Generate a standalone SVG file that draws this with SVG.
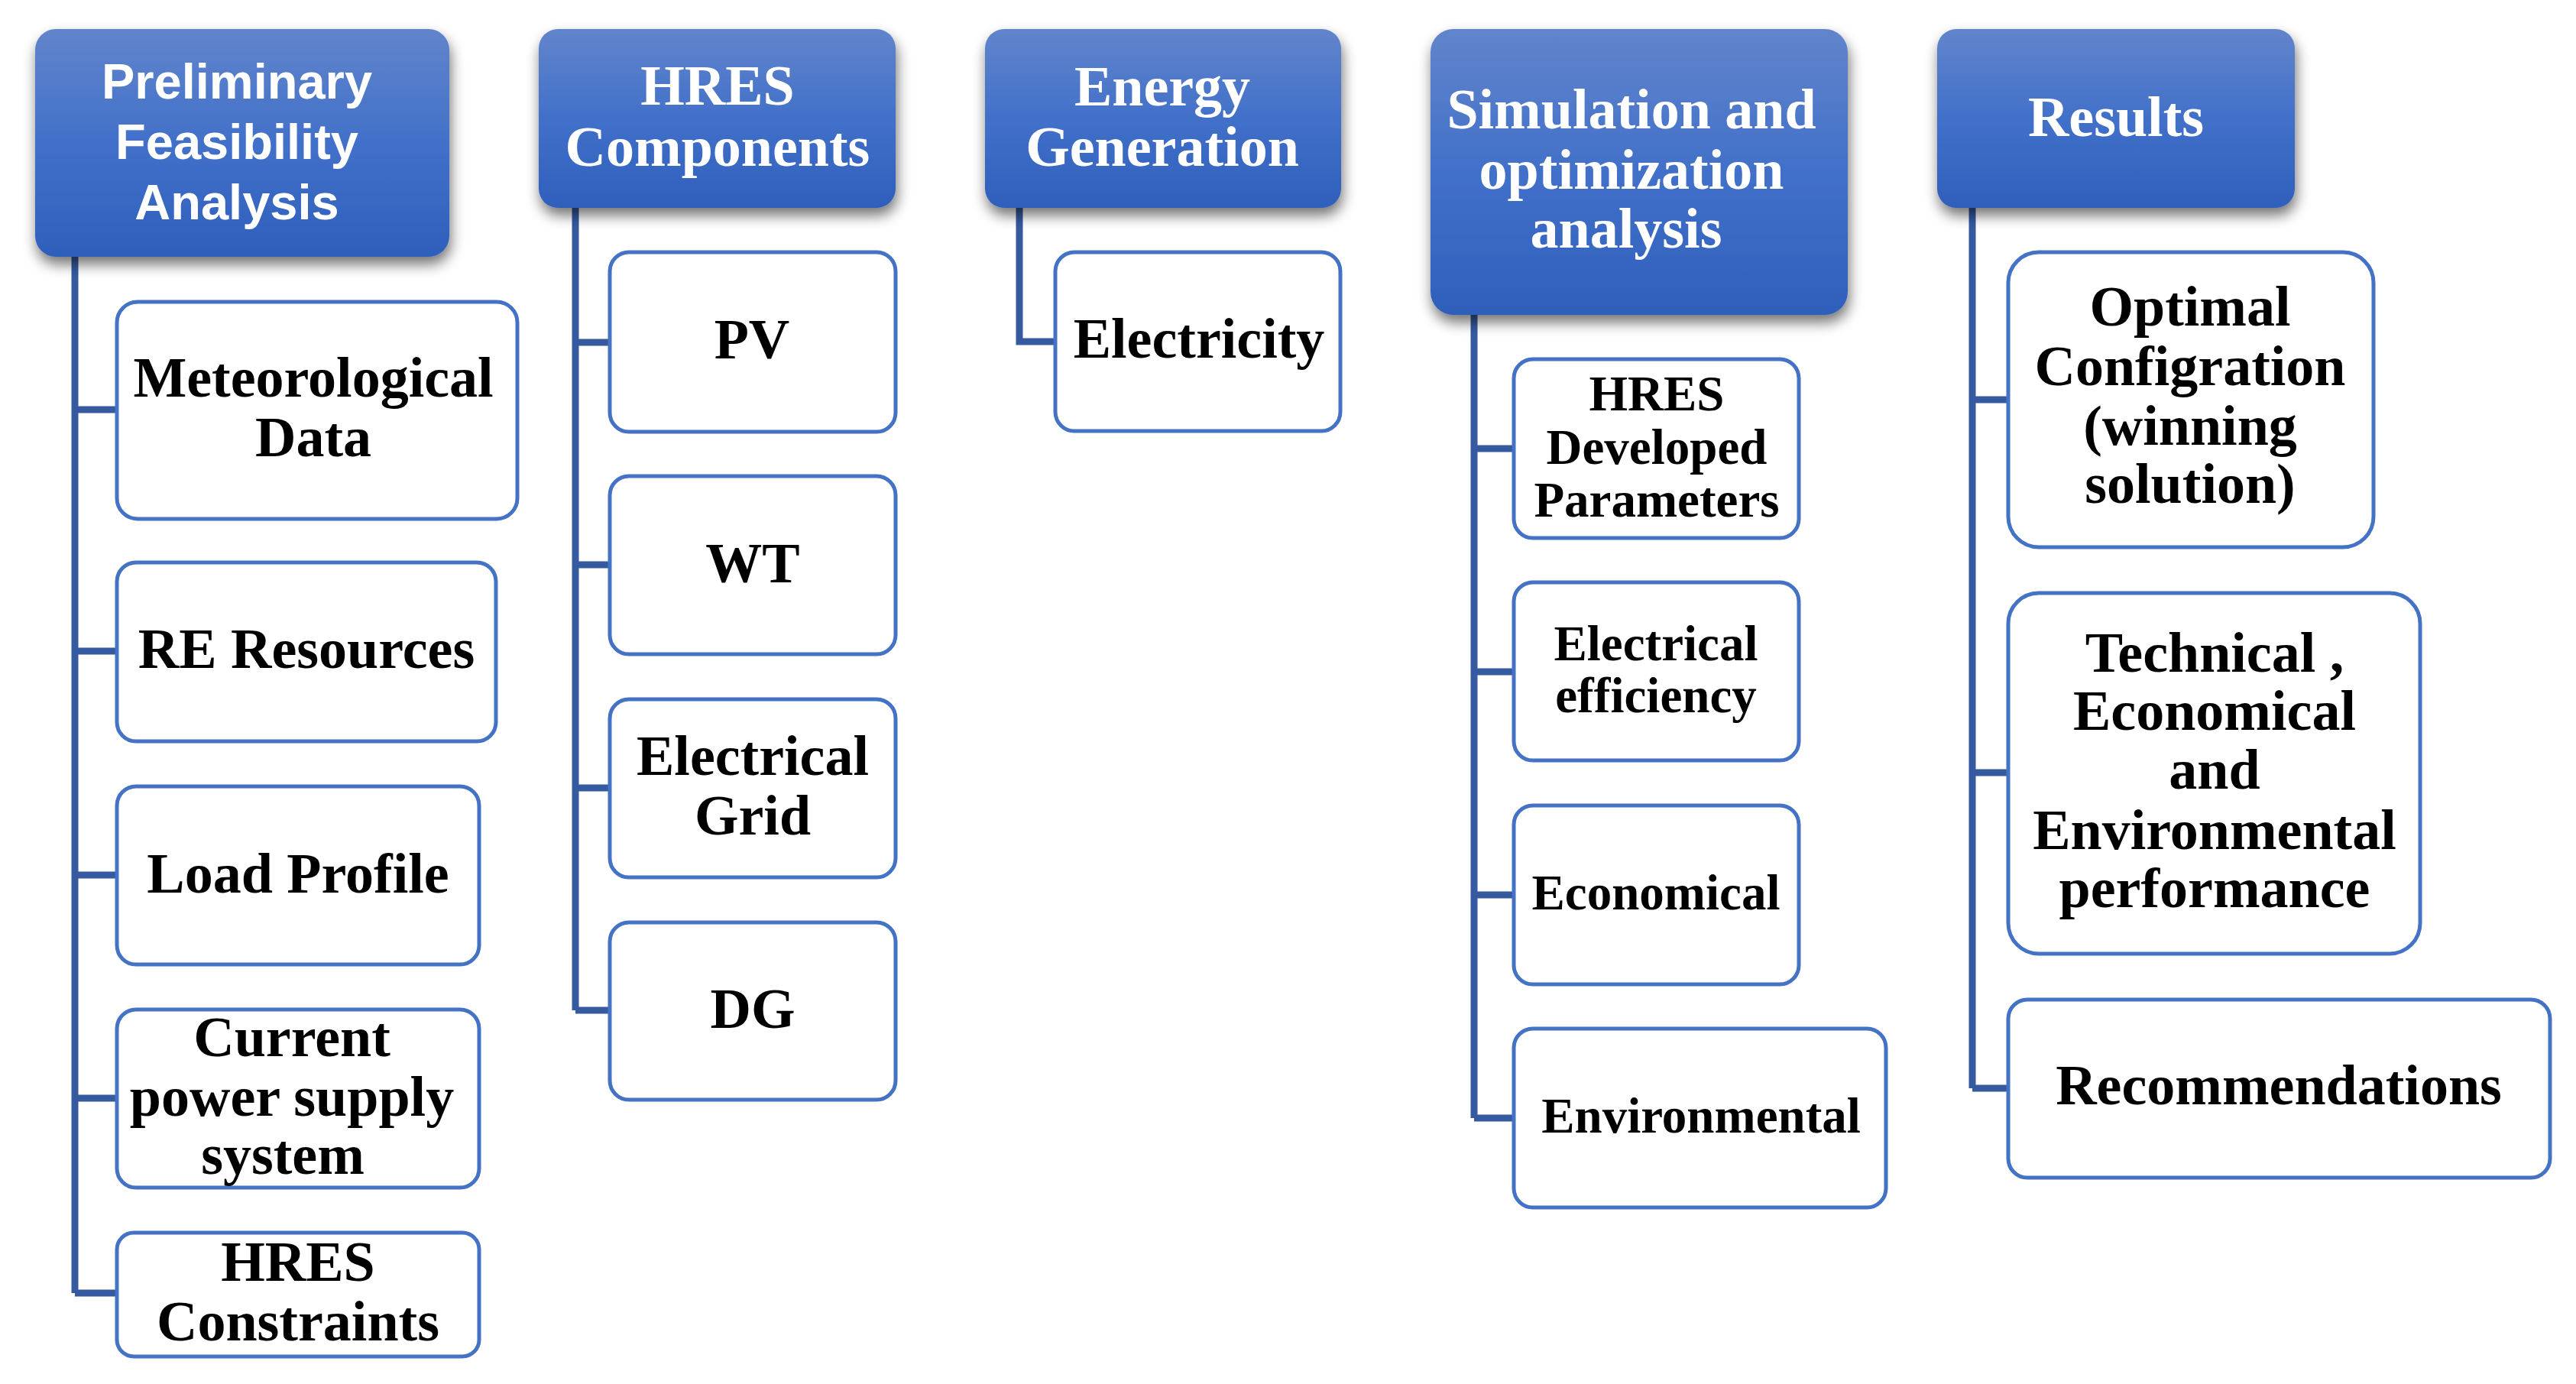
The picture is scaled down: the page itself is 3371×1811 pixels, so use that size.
<svg xmlns="http://www.w3.org/2000/svg" width="3371" height="1811" viewBox="0 0 3371 1811">
<defs>
<linearGradient id="hg" x1="0" y1="0" x2="0" y2="1">
<stop offset="0" stop-color="#6185cb"/>
<stop offset="0.5" stop-color="#4270c9"/>
<stop offset="1" stop-color="#2e5fbb"/>
</linearGradient>
<filter id="sh" x="-10%" y="-10%" width="125%" height="135%">
<feGaussianBlur in="SourceAlpha" stdDeviation="9"/>
<feOffset dx="2" dy="10" result="b"/>
<feComponentTransfer><feFuncA type="linear" slope="0.55"/></feComponentTransfer>
<feMerge><feMergeNode/><feMergeNode in="SourceGraphic"/></feMerge>
</filter>
<style>
.hdr{fill:url(#hg);filter:url(#sh)}
.box{fill:#ffffff;stroke:#4472c4;stroke-width:5}
.ht{font-family:"Liberation Serif","Times New Roman",serif;font-weight:bold;font-size:74px;fill:#ffffff;text-anchor:middle}
.hs{font-family:"Liberation Sans",Arial,sans-serif;font-weight:bold;font-size:65px;fill:#ffffff;text-anchor:middle}
.t{font-family:"Liberation Serif","Times New Roman",serif;font-weight:bold;font-size:74px;fill:#000000;text-anchor:middle}
.ts{font-family:"Liberation Serif","Times New Roman",serif;font-weight:bold;font-size:65px;fill:#000000;text-anchor:middle}
.c{fill:none;stroke:#355a9f;stroke-width:9}
</style>
</defs>
<rect width="3371" height="1811" fill="#ffffff"/>
<g id="connectors">
<path class="c" d="M98 336 V1692 M98 536 H153 M98 852 H153 M98 1145 H153 M98 1437 H153 M98 1692 H153"/>
<path class="c" d="M753 272 V1322 M753 448 H797 M753 739 H797 M753 1031 H797 M753 1322 H797"/>
<path class="c" d="M1334 272 V447 H1381"/>
<path class="c" d="M1929 412 V1463 M1929 587 H1981 M1929 879 H1981 M1929 1171 H1981 M1929 1463 H1981"/>
<path class="c" d="M2581 272 V1424 M2581 523 H2628 M2581 1011 H2628 M2581 1424 H2628"/>
</g>
<g id="h1"><rect class="hdr" x="46" y="38" width="542" height="298" rx="27"/>
<text class="hs"><tspan x="310" y="129">Preliminary</tspan><tspan x="310" y="208">Feasibility</tspan><tspan x="310" y="287">Analysis</tspan></text></g>
<g id="h2"><rect class="hdr" x="705" y="38" width="467" height="234" rx="25"/>
<text class="ht"><tspan x="939" y="137">HRES</tspan><tspan x="939" y="217">Components</tspan></text></g>
<g id="h3"><rect class="hdr" x="1289" y="38" width="466" height="234" rx="25"/>
<text class="ht"><tspan x="1521" y="138">Energy</tspan><tspan x="1521" y="217">Generation</tspan></text></g>
<g id="h4"><rect class="hdr" x="1872" y="38" width="546" height="374" rx="30"/>
<text class="ht"><tspan x="2135" y="168">Simulation and</tspan><tspan x="2135" y="247">optimization</tspan><tspan x="2128" y="324">analysis</tspan></text></g>
<g id="h5"><rect class="hdr" x="2535" y="38" width="468" height="234" rx="25"/>
<text class="ht"><tspan x="2769" y="178">Results</tspan></text></g>

<g id="n-met"><rect class="box" x="153" y="395" width="524" height="284" rx="27"/>
<text class="t"><tspan x="410" y="519">Meteorological</tspan><tspan x="410" y="597">Data</tspan></text></g>
<g id="n-re"><rect class="box" x="153" y="736" width="496" height="234" rx="25"/>
<text class="t"><tspan x="401" y="874">RE Resources</tspan></text></g>
<g id="n-load"><rect class="box" x="153" y="1029" width="474" height="233" rx="25"/>
<text class="t"><tspan x="390" y="1168">Load Profile</tspan></text></g>
<g id="n-cur"><rect class="box" x="153" y="1321" width="474" height="233" rx="25"/>
<text class="t"><tspan x="382" y="1382">Current</tspan><tspan x="382" y="1460">power supply</tspan><tspan x="370" y="1536">system</tspan></text></g>
<g id="n-con"><rect class="box" x="153" y="1613" width="474" height="162" rx="22"/>
<text class="t"><tspan x="390" y="1676">HRES</tspan><tspan x="390" y="1754">Constraints</tspan></text></g>

<g id="n-pv"><rect class="box" x="798" y="330" width="374" height="235" rx="25"/>
<text class="t"><tspan x="984" y="469">PV</tspan></text></g>
<g id="n-wt"><rect class="box" x="798" y="623" width="374" height="233" rx="25"/>
<text class="t"><tspan x="985" y="762">WT</tspan></text></g>
<g id="n-grid"><rect class="box" x="798" y="915" width="374" height="233" rx="25"/>
<text class="t"><tspan x="985" y="1014">Electrical</tspan><tspan x="985" y="1092">Grid</tspan></text></g>
<g id="n-dg"><rect class="box" x="798" y="1207" width="374" height="232" rx="25"/>
<text class="t"><tspan x="985" y="1345">DG</tspan></text></g>

<g id="n-elec"><rect class="box" x="1381" y="330" width="373" height="234" rx="25"/>
<text class="t"><tspan x="1569" y="468">Electricity</tspan></text></g>

<g id="n-hdp"><rect class="box" x="1981" y="470" width="373" height="234" rx="25"/>
<text class="ts"><tspan x="2168" y="537">HRES</tspan><tspan x="2168" y="607">Developed</tspan><tspan x="2168" y="676">Parameters</tspan></text></g>
<g id="n-eff"><rect class="box" x="1981" y="762" width="373" height="233" rx="25"/>
<text class="ts"><tspan x="2167" y="864">Electrical</tspan><tspan x="2167" y="932">efficiency</tspan></text></g>
<g id="n-eco"><rect class="box" x="1981" y="1054" width="373" height="234" rx="25"/>
<text class="ts"><tspan x="2167" y="1190">Economical</tspan></text></g>
<g id="n-env"><rect class="box" x="1981" y="1346" width="487" height="234" rx="25"/>
<text class="ts"><tspan x="2226" y="1482">Environmental</tspan></text></g>

<g id="n-opt"><rect class="box" x="2628" y="330" width="478" height="386" rx="40"/>
<text class="t"><tspan x="2866" y="426">Optimal</tspan><tspan x="2866" y="504">Configration</tspan><tspan x="2866" y="582">(winning</tspan><tspan x="2866" y="658">solution)</tspan></text></g>
<g id="n-tech"><rect class="box" x="2628" y="776" width="539" height="472" rx="40"/>
<text class="t"><tspan x="2898" y="879">Technical ,</tspan><tspan x="2898" y="955">Economical</tspan><tspan x="2898" y="1032">and</tspan><tspan x="2898" y="1111">Environmental</tspan><tspan x="2898" y="1187">performance</tspan></text></g>
<g id="n-rec"><rect class="box" x="2628" y="1308" width="709" height="233" rx="25"/>
<text class="t"><tspan x="2982" y="1445">Recommendations</tspan></text></g>
</svg>
